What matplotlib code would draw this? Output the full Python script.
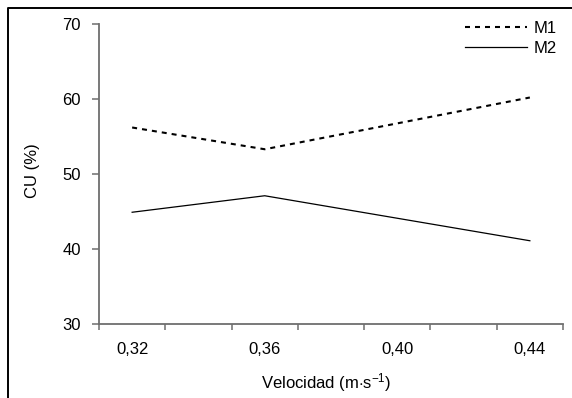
import matplotlib
matplotlib.use("Agg")
import matplotlib.pyplot as plt
from matplotlib.lines import Line2D

plt.rcParams['font.family'] = ['Liberation Sans', 'DejaVu Sans']
plt.rcParams['mathtext.fontset'] = 'custom'
plt.rcParams['mathtext.rm'] = 'Liberation Sans'
plt.rcParams['mathtext.it'] = 'Liberation Sans:italic'

# data
velocidad = [0.32, 0.36, 0.44]
cu_m1 = [56.2, 53.3, 60.2]
cu_m2 = [44.9, 47.1, 41.1]

x_bounds = [0.31, 0.33, 0.35, 0.37, 0.39, 0.41, 0.43, 0.45]
x_labels_at = [0.32, 0.36, 0.40, 0.44]
x_labels = ['0,32', '0,36', '0,40', '0,44']
y_ticks = [30, 40, 50, 60, 70]

W, H = 572, 398
FS = 12
fig = plt.figure(figsize=(W / 100, H / 100), dpi=100)
ax = fig.add_axes([99 / W, 1 - 324 / H, (563 - 99) / W, 300 / H])

ax.plot(velocidad, cu_m1, color='black', lw=1.5, linestyle=(0, (2.4, 2.4)), label='M1')
ax.plot(velocidad, cu_m2, color='black', lw=0.9, label='M2')

ax.set_xlim(x_bounds[0], x_bounds[-1])
ax.set_ylim(30, 70)
ax.set_yticks(y_ticks)
ax.set_xticks(x_bounds)
ax.set_xticklabels([])
ax.set_xticks(x_labels_at, minor=True)
ax.set_xticklabels(x_labels, minor=True)

grey = '#6e6e6e'
for s in ['top', 'right']:
    ax.spines[s].set_visible(False)
for s in ['left', 'bottom']:
    ax.spines[s].set_color(grey)
    ax.spines[s].set_linewidth(1.3)

ax.tick_params(axis='y', direction='out', length=5, width=1.1, color=grey,
               labelsize=FS, pad=8)
ax.tick_params(axis='x', which='major', direction='out', length=4.5, width=1.1,
               color=grey)
ax.tick_params(axis='x', which='minor', length=0, labelsize=FS, pad=13)

ax.set_ylabel('CU (%)', fontsize=FS)
ax.yaxis.set_label_coords(32 / W, 1 - 171 / H, transform=fig.transFigure)
ax.yaxis.label.set_verticalalignment('center')
ax.set_xlabel(r'Velocidad (m$\cdot$s$^{-1}$)', fontsize=FS)
ax.xaxis.set_label_coords(326 / W, 1 - 383 / H, transform=fig.transFigure)
ax.xaxis.label.set_verticalalignment('center')

fs_px = FS * 100 / 72
ax.legend(loc='upper right', bbox_to_anchor=(557 / W, 1 - 21 / H),
          bbox_transform=fig.transFigure, frameon=False, fontsize=FS,
          handlelength=62 / fs_px, handletextpad=7 / fs_px,
          labelspacing=(22 - fs_px) / fs_px, borderpad=0, borderaxespad=0)

# outer frame (top and left edges only)
fig.add_artist(Line2D([8 / W, 8 / W, 1], [0, 1 - 8 / H, 1 - 8 / H],
                      transform=fig.transFigure, color='black', lw=1.4))

fig.savefig('out.png', dpi=100)
